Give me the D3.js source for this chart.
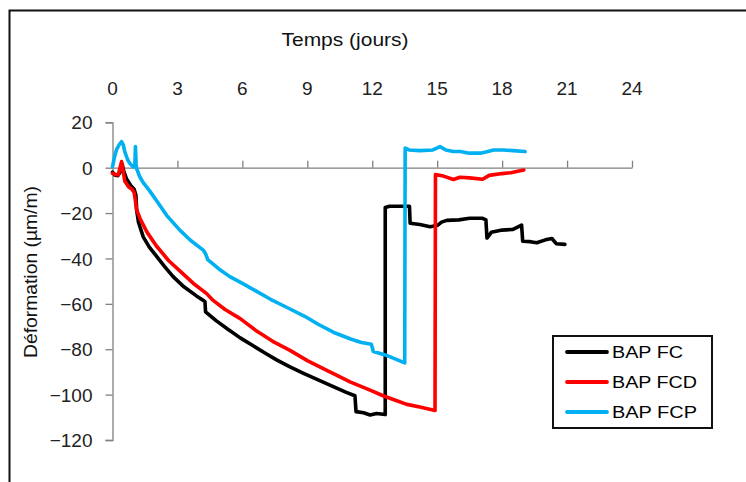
<!DOCTYPE html>
<html><head><meta charset="utf-8">
<script src="https://cdn.jsdelivr.net/npm/d3@7"></script>
<style>html,body{margin:0;padding:0;background:#fff;}</style>
</head><body>
<script>
// ---- data ----
const xTicks = [0, 3, 6, 9, 12, 15, 18, 21, 24];
const yTicks = [20, 0, -20, -40, -60, -80, -100, -120];
const seriesNames = ["BAP FC", "BAP FCD", "BAP FCP"];
const seriesColors = ["#000000", "#FF0000", "#00B0F0"];
// [jours, déformation µm/m]
const dataFC = [[0,-2],[0.1,-3.2],[0.25,-3.5],[0.35,-2],[0.45,1.5],[0.52,-1.5],[0.65,-5],[0.85,-8],[1.0,-9.5],[1.08,-12],[1.12,-19],[1.2,-24],[1.42,-30.5],[1.7,-35],[2.03,-39],[2.4,-43.5],[2.8,-48],[3.3,-52.5],[3.88,-56.5],[4.2,-58.5],[4.27,-59],[4.3,-63.5],[4.8,-67.5],[5.3,-71],[5.9,-75],[6.5,-78.5],[7.1,-82],[7.6,-84.8],[8.2,-87.8],[8.8,-90.5],[9.5,-93.5],[10.2,-96.5],[10.8,-99],[11.2,-100.5],[11.25,-107.5],[11.6,-108],[11.9,-109],[12.2,-108.3],[12.6,-108.8],[12.6,-17.5],[12.8,-17],[13.2,-17],[13.72,-17],[13.75,-24.5],[14.2,-25],[14.67,-26],[15.0,-25.5],[15.2,-24],[15.44,-23.2],[16.0,-23],[16.5,-22.3],[17.1,-22.3],[17.25,-23],[17.3,-31],[17.5,-28.5],[18.0,-27.5],[18.5,-27.2],[18.9,-25.3],[18.95,-32.4],[19.3,-32.6],[19.6,-33.1],[20.0,-31.8],[20.3,-31.2],[20.5,-33.5],[20.9,-33.8]];
const dataFCD = [[0,-2.5],[0.15,-3],[0.26,-3.2],[0.35,0],[0.42,2.7],[0.5,-2],[0.57,-6],[0.75,-8.5],[0.9,-9.5],[1.0,-11],[1.05,-14],[1.11,-18.5],[1.3,-23],[1.6,-28.5],[2.03,-34.5],[2.6,-41],[3.26,-46.8],[3.8,-51.5],[4.35,-55.5],[4.65,-58.5],[5.2,-62.5],[5.9,-66.5],[6.66,-72],[7.4,-76.5],[8.2,-80.5],[9.0,-85],[10.04,-90],[11.0,-94.5],[11.9,-98],[12.5,-100.5],[13.1,-102.6],[13.6,-104.3],[14.2,-105.5],[14.9,-107],[14.92,-3],[15.29,-3.7],[15.75,-5.2],[16.05,-4.2],[16.5,-4.5],[17.1,-5.1],[17.4,-3.4],[18.0,-2.6],[18.4,-2.2],[19.0,-1.0]];
const dataFCP = [[0,0.5],[0.1,5],[0.18,7.8],[0.3,10],[0.42,11.5],[0.5,10],[0.57,7],[0.7,3.5],[0.8,1.9],[0.95,0.4],[1.03,0.5],[1.06,9.3],[1.09,2],[1.11,-0.3],[1.26,-4],[1.41,-6.5],[1.7,-10],[2.03,-14.5],[2.5,-21],[3.11,-27.5],[3.6,-32],[4.19,-36.3],[4.3,-38],[4.4,-40.5],[4.9,-44.5],[5.42,-48],[6.0,-51],[6.66,-54.5],[7.3,-58],[8.04,-61.5],[8.88,-65.5],[9.5,-69],[10.2,-72.5],[11.0,-75.5],[11.5,-77],[11.96,-77.8],[12.05,-81],[12.6,-82.5],[13.0,-84],[13.5,-86],[13.52,8.6],[13.7,7.8],[14.2,7.5],[14.8,7.8],[15.13,9.3],[15.4,7.8],[15.74,7.1],[16.05,7.1],[16.5,6.4],[17.0,6.4],[17.3,7],[17.6,7.8],[18.06,7.8],[18.5,7.5],[19.06,7.1]];
const allSeries = [dataFC, dataFCD, dataFCP];

// ---- drawing ----
const W = 746, H = 482;
const svg = d3.select("body").append("svg").attr("width", W).attr("height", H)
  .style("font-family", "'Liberation Sans', Arial, sans-serif");
svg.append("rect").attr("width", W).attr("height", H).attr("fill", "#fff");
// outer frame
svg.append("rect").attr("x", 9.5).attr("y", 10.5).attr("width", 900).attr("height", 700)
  .attr("fill", "none").attr("stroke", "#111").attr("stroke-width", 2);

const x = d3.scaleLinear().domain([0, 24]).range([112.5, 632]);
const y = d3.scaleLinear().domain([-120, 20]).range([440, 122.3]);
const axisColor = "#808080";

// Y axis
const yAxis = svg.append("g").attr("transform", `translate(${x(0)},0)`)
  .call(d3.axisLeft(y).tickValues(yTicks).tickSize(7).tickFormat(d3.format("d")).tickPadding(13));
yAxis.select(".domain").attr("stroke", axisColor).attr("stroke-width", 1.3);
yAxis.selectAll(".tick line").attr("stroke", axisColor).attr("stroke-width", 1.3);
yAxis.selectAll(".tick text").attr("font-size", 19).attr("fill", "#222")
  .attr("font-family", "'Liberation Sans', Arial, sans-serif").attr("dy", "0.35em");

// X axis at y=0, ticks upward, labels at top
const xAxis = svg.append("g").attr("transform", `translate(0,${y(0)})`)
  .call(d3.axisTop(x).tickValues(xTicks).tickSize(7).tickSizeOuter(0).tickFormat(""));
xAxis.select(".domain").attr("stroke", axisColor).attr("stroke-width", 1.3);
xAxis.selectAll(".tick line").attr("stroke", axisColor).attr("stroke-width", 1.3);
svg.append("g").selectAll("text").data(xTicks).join("text")
  .attr("x", d => x(d)).attr("y", 95).attr("text-anchor", "middle")
  .attr("font-size", 19).attr("fill", "#222").text(d => d);

// titles
svg.append("text").attr("x", 345).attr("y", 46).attr("text-anchor", "middle")
  .attr("font-size", 19).attr("fill", "#111")
  .attr("textLength", 127).attr("lengthAdjust", "spacingAndGlyphs").text("Temps (jours)");
svg.append("text").attr("transform", "translate(37,272) rotate(-90)").attr("text-anchor", "middle")
  .attr("font-size", 18).attr("fill", "#111")
  .attr("textLength", 172).attr("lengthAdjust", "spacingAndGlyphs").text("Déformation (µm/m)");

// lines
const line = d3.line().x(d => x(d[0])).y(d => y(d[1]));
svg.append("g").selectAll("path").data(allSeries).join("path")
  .attr("d", line).attr("fill", "none")
  .attr("stroke", (d, i) => seriesColors[i]).attr("stroke-width", 3.6)
  .attr("stroke-linejoin", "round").attr("stroke-linecap", "round");

// legend
const lg = svg.append("g");
lg.append("rect").attr("x", 553).attr("y", 336).attr("width", 159).attr("height", 92)
  .attr("fill", "#fff").attr("stroke", "#111").attr("stroke-width", 2);
const legLens = [71, 85, 85];
seriesNames.forEach((n, i) => {
  const cy = 352 + i * 30;
  lg.append("line").attr("x1", 567).attr("x2", 607).attr("y1", cy).attr("y2", cy)
    .attr("stroke", seriesColors[i]).attr("stroke-width", 3.8).attr("stroke-linecap", "round");
  lg.append("text").attr("x", 612).attr("y", cy + 6).attr("font-size", 17).attr("fill", "#000")
    .attr("textLength", legLens[i]).attr("lengthAdjust", "spacingAndGlyphs").text(n);
});
</script>
</body></html>
